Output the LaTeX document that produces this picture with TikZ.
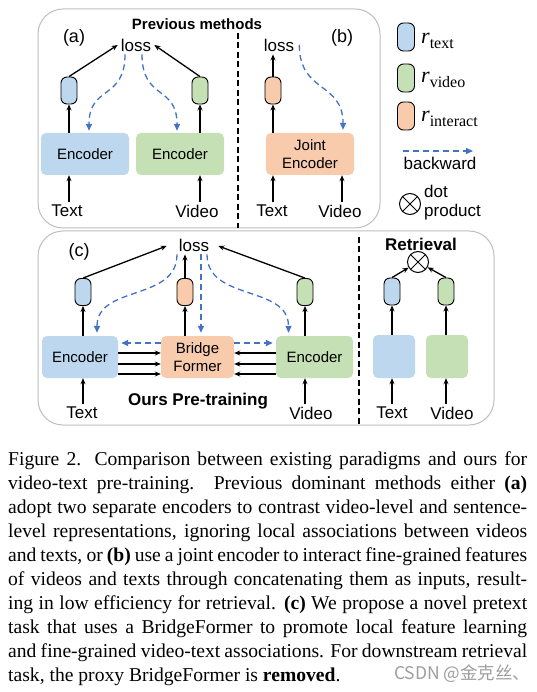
\documentclass[tikz,border=0pt]{standalone}
\usepackage{fontspec}
\setmainfont{Liberation Serif}
\newfontfamily\arial{Liberation Sans}
\newfontfamily\cjk{Noto Sans CJK SC}
\usetikzlibrary{arrows.meta}
\definecolor{bluefill}{HTML}{BDD7EE}
\definecolor{greenfill}{HTML}{C5E0B4}
\definecolor{orangefill}{HTML}{F8CBAD}
\definecolor{bwdblue}{HTML}{4472C4}
\definecolor{framegray}{HTML}{BFBFBF}
\newcommand\capline[1]{\hbox to 519pt{#1}}
\begin{document}
\begin{tikzpicture}[x=1pt,y=-1pt,
  sans/.style={font=\arial\fontsize{#1}{#1}\selectfont},
  sansb/.style={font=\arial\bfseries\fontsize{#1}{#1}\selectfont},
  lbl/.style={sans=17, inner sep=3pt},
  frame/.style={draw=framegray, line width=1pt, rounded corners=25pt},
  divider/.style={draw=black, line width=1.3pt, dash pattern=on 6pt off 3.5pt},
  capsule/.style={draw=black, line width=0.9pt, rounded corners=6pt, minimum width=16pt, minimum height=27pt, inner sep=0pt, fill=#1},
  encbox/.style={rectangle, rounded corners=5pt, fill=#1, inner sep=0pt, align=center, font=\arial\fontsize{15}{18}\selectfont},
  arr/.style={draw=black, line width=1.3pt, -{Stealth[length=6pt,width=5pt]}},
  bwd/.style={draw=bwdblue, line width=1.3pt, dash pattern=on 6pt off 4pt, -{Triangle[length=7pt,width=6pt]}},
  dotprod/.style={circle, draw=black, line width=1pt, minimum size=21pt, inner sep=0pt},
]
\useasboundingbox (0,0) rectangle (536,692);
\fill[white] (0,0) rectangle (536,692);

% frames
\draw[frame] (38,9) rectangle (380,228);
\draw[frame] (38,231) rectangle (494,425);
\draw[divider] (238,33) -- (238,228);
\draw[divider] (359,237) -- (359,425);

% ---------- (a)
\node[sansb=15] (titleA) at (197,24) {Previous methods};
\node[sans=18] (labA) at (74,38) {(a)};
\node[lbl] (lossA) at (136,45) {loss};
\node[capsule=bluefill] (capA1) at (69,90.5) {};
\node[capsule=greenfill] (capA2) at (200,90.5) {};
\node[encbox=bluefill, minimum width=88pt, minimum height=42pt] (encA1) at (85,154) {Encoder};
\node[encbox=greenfill, minimum width=88pt, minimum height=42pt] (encA2) at (180,154) {Encoder};
\node[lbl] (txtA) at (67,211) {Text};
\node[lbl] (vidA) at (197,211) {Video};
\draw[arr] (capA1.north) -- (lossA.west);
\draw[arr] (capA2.north) -- (lossA.east);
\draw[arr] (capA1.south |- encA1.north) -- (capA1.south);
\draw[arr] (capA2.south |- encA2.north) -- (capA2.south);
\draw[arr] (capA1.south |- txtA.north) -- (capA1.south |- encA1.south);
\draw[arr] (capA2.south |- vidA.north) -- (capA2.south |- encA2.south);
\draw[bwd] ([xshift=-11pt]lossA.south) .. controls +(0,46) and +(0,-46) .. ([xshift=4pt,yshift=2pt]encA1.north);
\draw[bwd] ([xshift=6pt]lossA.south) .. controls +(0,46) and +(0,-46) .. ([xshift=-3pt,yshift=2pt]encA2.north);

% ---------- (b)
\node[sans=18] (labB) at (342,38) {(b)};
\node[lbl] (lossB) at (279,45) {loss};
\node[capsule=orangefill] (capB) at (273,90.5) {};
\node[encbox=orangefill, minimum width=88pt, minimum height=42pt] (encB) at (310,154) {Joint\\Encoder};
\node[lbl] (txtB) at (272,211) {Text};
\node[lbl] (vidB) at (340,211) {Video};
\draw[arr] (capB.north) -- (capB.north |- lossB.south);
\draw[arr] (capB.south |- encB.north) -- (capB.south);
\draw[arr] (capB.south |- txtB.north) -- (capB.south |- encB.south);
\draw[arr] ([xshift=2pt]vidB.north) -- ([xshift=2pt]vidB.north |- encB.south);
\draw[bwd] ([xshift=2pt]lossB.east) .. controls +(0,48) and +(0,-48) .. ([xshift=33pt,yshift=3pt]encB.north);

% ---------- legend
\node[capsule=bluefill, minimum width=17pt, minimum height=28pt] (legT) at (406,37) {};
\node[capsule=greenfill, minimum width=17pt, minimum height=28pt] (legV) at (406,78) {};
\node[capsule=orangefill, minimum width=17pt, minimum height=28pt] (legI) at (406,116) {};
\node[anchor=base west, inner sep=0pt] (legTl) at (421,44) {{\fontsize{22}{22}\selectfont\itshape r}\raisebox{-4.5pt}{\fontsize{16}{16}\selectfont text}};
\node[anchor=base west, inner sep=0pt] (legVl) at (421,83) {{\fontsize{22}{22}\selectfont\itshape r}\raisebox{-4.5pt}{\fontsize{16}{16}\selectfont video}};
\node[anchor=base west, inner sep=0pt] (legIl) at (421,122) {{\fontsize{22}{22}\selectfont\itshape r}\raisebox{-4.5pt}{\fontsize{16}{16}\selectfont interact}};
\coordinate (bkS) at (403,151);
\coordinate (bkE) at (473,151);
\draw[bwd] (bkS) -- (bkE);
\node[lbl] (bkL) at (440,163) {backward};
\node[dotprod] (legDot) at (410,204) {};
\draw[line width=1pt] (legDot.north east) -- (legDot.south west);
\draw[line width=1pt] (legDot.north west) -- (legDot.south east);
\node[sans=17, anchor=base west, inner sep=0pt] (dotL) at (424,198) {dot};
\node[sans=17, anchor=base west, inner sep=0pt] (prodL) at (424,217) {product};

% ---------- (c)
\node[sans=18] (labC) at (79,252) {(c)};
\node[lbl] (lossC) at (194,245) {loss};
\node[capsule=bluefill] (capC1) at (83,292) {};
\node[capsule=orangefill] (capC2) at (185,292) {};
\node[capsule=greenfill] (capC3) at (305,292) {};
\node[encbox=bluefill, minimum width=76pt, minimum height=42pt] (encC1) at (80,357) {Encoder};
\node[encbox=orangefill, minimum width=73pt, minimum height=42pt] (bridge) at (197.5,357) {Bridge\\Former};
\node[encbox=greenfill, minimum width=77pt, minimum height=42pt] (encC3) at (314.5,357) {Encoder};
\node[lbl] (txtC) at (82,413) {Text};
\node[lbl] (vidC) at (311,413) {Video};
\node[sansb=17] (oursC) at (198,401) {Ours Pre-training};
\draw[arr] (capC1.north) -- ([xshift=-9pt,yshift=-1pt]lossC.west);
\draw[arr] (capC3.north) -- ([xshift=6pt,yshift=-1pt]lossC.east);
\draw[arr] (capC2.north) -- (capC2.north |- lossC.south);
\draw[arr] (capC1.south |- encC1.north) -- (capC1.south);
\draw[arr] (capC2.south |- bridge.north) -- (capC2.south);
\draw[arr] (capC3.south |- encC3.north) -- (capC3.south);
\draw[arr] (capC1.south |- txtC.north) -- (capC1.south |- encC1.south);
\draw[arr] (capC3.south |- vidC.north) -- (capC3.south |- encC3.south);
\foreach \s in {4,-7,-17} {
  \draw[arr, line width=1.5pt] ([yshift=\s pt]encC1.east) -- ([yshift=\s pt]bridge.west);
  \draw[arr, line width=1.5pt] ([yshift=\s pt]encC3.west) -- ([yshift=\s pt]bridge.east);
}
\draw[bwd] ([yshift=14pt]bridge.west) -- ([yshift=14pt,xshift=3pt]encC1.east);
\draw[bwd] ([yshift=14pt]bridge.east) -- ([yshift=14pt,xshift=-3pt]encC3.west);
\draw[bwd] ([xshift=-17pt]lossC.south) .. controls +(0,47) and +(0,-48) .. ([xshift=17pt,yshift=3pt]encC1.north);
\draw[bwd] ([xshift=7pt]lossC.south) -- ([xshift=7pt,yshift=3pt]lossC.south |- bridge.north);
\draw[bwd] ([xshift=13pt]lossC.south) .. controls +(0,47) and +(0,-48) .. ([xshift=-26pt,yshift=3pt]encC3.north);

% ---------- retrieval
\node[sansb=17] (retT) at (421,244) {Retrieval};
\node[dotprod] (dotR) at (418,262) {};
\draw[line width=1pt] (dotR.north east) -- (dotR.south west);
\draw[line width=1pt] (dotR.north west) -- (dotR.south east);
\node[capsule=bluefill] (capR1) at (392,291.5) {};
\node[capsule=greenfill] (capR2) at (446,291.5) {};
\node[encbox=bluefill, minimum width=42pt, minimum height=43pt] (boxR1) at (394,356.5) {};
\node[encbox=greenfill, minimum width=42pt, minimum height=43pt] (boxR2) at (447,356.5) {};
\node[lbl] (txtR) at (392,413) {Text};
\node[lbl] (vidR) at (452,413) {Video};
\draw[arr] (capR1.north) -- (dotR);
\draw[arr] (capR2.north) -- (dotR);
\draw[arr] (capR1.south |- boxR1.north) -- (capR1.south);
\draw[arr] (capR2.south |- boxR2.north) -- (capR2.south);
\draw[arr] (capR1.south |- txtR.north) -- (capR1.south |- boxR1.south);
\draw[arr] (capR2.south |- vidR.north) -- (capR2.south |- boxR2.south);

% ---------- caption
\node[anchor=base west, inner sep=0pt] (caption) at (8,465) {\vtop{\hsize=519pt\fontsize{19.6}{24}\selectfont\baselineskip=24pt
\capline{Figure 2.  Comparison between existing paradigms and ours for}
\capline{video-text pre-training.  Previous dominant methods either \textbf{(a)}}
\capline{adopt two separate encoders to contrast video-level and sentence-}
\capline{level representations, ignoring local associations between videos}
\capline{and texts, or \textbf{(b)} use a joint encoder to interact fine-grained features}
\capline{of videos and texts through concatenating them as inputs, result-}
\capline{ing in low efficiency for retrieval. \textbf{(c)} We propose a novel pretext}
\capline{task that uses a BridgeFormer to promote local feature learning}
\capline{and fine-grained video-text associations. For downstream retrieval}
\hbox{task, the proxy BridgeFormer is \textbf{removed}.}}};
\node[anchor=base west, inner sep=0pt, text=black!38, font=\cjk\fontsize{17.5}{17.5}\selectfont] (wm) at (394,679) {CSDN @金克丝、};
\end{tikzpicture}
\end{document}
